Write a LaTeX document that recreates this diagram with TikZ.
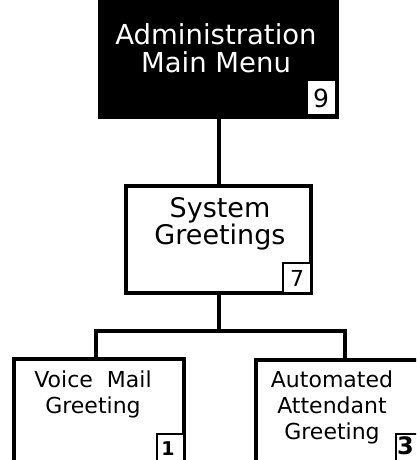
\documentclass[tikz,border=0pt]{standalone}
\usepackage{fontspec}
\setmainfont{DejaVu Sans}
\usetikzlibrary{positioning}

\begin{document}
\begin{tikzpicture}[x=1pt,y=1pt,
    every node/.style={inner sep=0pt, outer sep=0pt},
    menubox/.style={draw, line width=4.5pt, fill=white},
    numbox/.style={draw, line width=2.5pt, fill=white},
    link/.style={line width=4pt},
    bigtext/.style={align=center, font=\fontsize{27.5}{28}\selectfont},
    smalltext/.style={align=center, font=\fontsize{22}{26}\selectfont}]
  \useasboundingbox (0,0) rectangle (416,-460);
  \clip (0,0) rectangle (416,-460);
  % top menu
  \node[fill=black, minimum width=241pt, minimum height=119pt] (admin) at (218.5,-59.5) {};
  \node[fill=white, minimum width=27pt, minimum height=33pt] (n9) at (321.5,-97.5) {};
  \node[bigtext, text=white] (adminlbl) at (216,-48.5) {Administration\\Main Menu};
  \node[font=\fontsize{25}{25}\selectfont] (d9) at (321,-98.5) {9};
  % second level
  \node[menubox, minimum width=185pt, minimum height=107pt, below=67pt of admin] (sys) {};
  \node[numbox, minimum width=28pt, minimum height=30pt, anchor=south east] (n7) at (sys.south east) {};
  \node[bigtext, font=\fontsize{27}{25}\selectfont] (syslbl) at (220,-223.7) {System\\Greetings};
  \node[font=\fontsize{22}{22}\selectfont] (d7) at (n7.center) {7};
  % third level
  \node[menubox, minimum width=170pt, minimum height=111pt] (vm) at (99,-414.5) {};
  \node[menubox, minimum width=170pt, minimum height=111pt] (aa) at (341,-415.5) {};
  \node[numbox, minimum width=27pt, minimum height=36pt, anchor=north east] (n1) at ([yshift=-75pt]vm.north east) {};
  \node[numbox, minimum width=30pt, minimum height=36pt, anchor=north east] (n3) at ([yshift=-74pt]aa.north east) {};
  \node[smalltext] (vmlbl) at (93,-394.2) {Voice\ \ Mail\\Greeting};
  \node[smalltext] (aalbl) at (332,-407.2) {Automated\\Attendant\\Greeting};
  \node[font=\bfseries\fontsize{19}{19}\selectfont] (d1) at (168,-448.5) {1};
  \node[font=\bfseries\fontsize{24}{24}\selectfont] (d3) at (405.5,-446) {3};
  % connectors
  \coordinate (fork) at (218.5,-330.5);
  \coordinate (forkL) at (96,-330.5);
  \coordinate (forkR) at (344.5,-330.5);
  \draw[link] (admin.south) -- (sys.north);
  \draw[link] (sys.south) -- (fork);
  \draw[link] (forkL |- vm.north) -- (forkL) -- (forkR) -- (forkR |- aa.north);
\end{tikzpicture}
\end{document}
